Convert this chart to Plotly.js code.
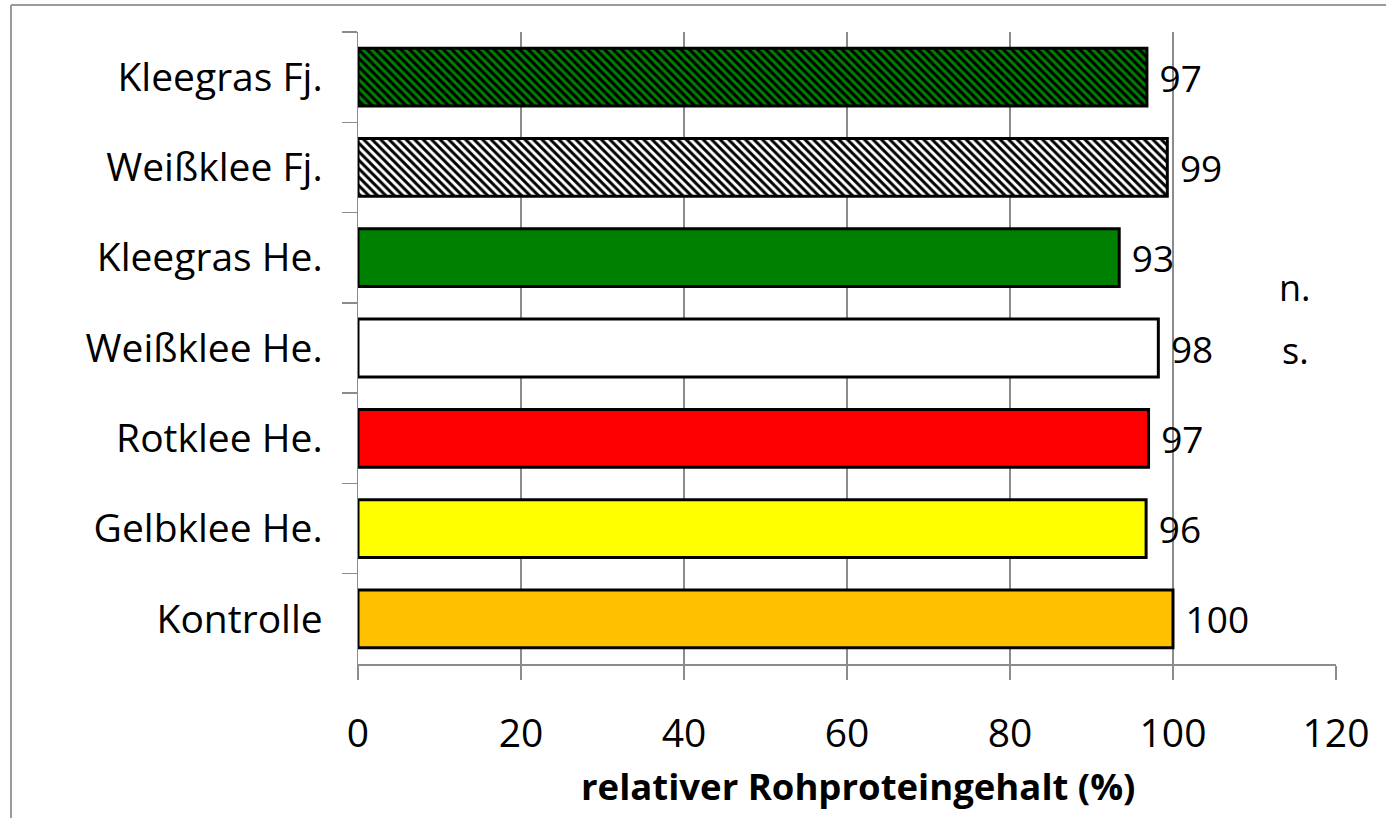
<!DOCTYPE html>
<html>
<head>
<meta charset="utf-8">
<script src="https://cdn.plot.ly/plotly-3.0.1.min.js"></script>
<style>
html,body{margin:0;padding:0;background:#fff;}
#chart{width:1386px;height:818px;}
</style>
</head>
<body>
<div id="chart"></div>
<script>
// Data (top to bottom)
const categories = ['Kleegras Fj.', 'Weißklee Fj.', 'Kleegras He.', 'Weißklee He.', 'Rotklee He.', 'Gelbklee He.', 'Kontrolle'];
const values = [96.8, 99.3, 93.4, 98.2, 97.0, 96.7, 100];
const valueLabels = ['97', '99', '93', '98', '97', '96', '100'];
const barColors = ['#008000', '#ffffff', '#008000', '#ffffff', '#ff0000', '#ffff00', '#ffc000'];
const barPatterns = ['\\', '\\', '', '', '', '', ''];
const xTicks = [0, 20, 40, 60, 80, 100, 120];
const xTitle = 'relativer Rohproteingehalt (%)';
const nsLines = ['n.', 's.'];

const FONT = 'Open Sans, Calibri, sans-serif';
const GRAY = '#8c8c8c';

// plot area geometry (px) used for frame shapes / annotations
const W = 1386, H = 818;
const L = 358, R = 50, T = 32, B = 154;
const pw = W - L - R, ph = H - T - B;
const px = v => (v - L) / pw;
const py = v => (H - B - v) / ph;

// one trace per bar so each bar can have its own solid colour / hatch
const traces = categories.map((cat, i) => ({
  type: 'bar',
  orientation: 'h',
  y: [cat],
  x: [values[i]],
  text: [valueLabels[i]],
  texttemplate: '\u00a0%{text}',
  textposition: 'outside',
  constraintext: 'none',
  cliponaxis: false,
  textfont: {family: FONT, size: 37, color: '#000'},
  marker: {
    color: barColors[i],
    line: {color: '#000', width: 3},
    pattern: barPatterns[i] ? {
      shape: barPatterns[i],
      fillmode: 'overlay',
      bgcolor: barColors[i],
      fgcolor: '#000000',
      fgopacity: 1,
      size: 6,
      solidity: 0.5
    } : {shape: ''}
  },
  hoverinfo: 'skip',
  showlegend: false
}));

const layout = {
  width: W, height: H,
  margin: {l: L, r: R, t: T, b: B, pad: 0},
  paper_bgcolor: '#fff', plot_bgcolor: '#fff',
  showlegend: false,
  barmode: 'overlay',
  bargap: 0.36,
  font: {family: FONT, color: '#000'},
  xaxis: {
    range: [0, 120],
    tickvals: xTicks,
    ticktext: xTicks.map(String),
    tickfont: {family: FONT, size: 39, color: '#000'},
    showgrid: true, gridcolor: GRAY, gridwidth: 1.5,
    showline: true, linecolor: GRAY, linewidth: 1.5,
    ticks: 'outside', ticklen: 14, tickcolor: GRAY, tickwidth: 1.5,
    ticklabelstandoff: 21,
    zeroline: false
  },
  yaxis: {
    type: 'category',
    categoryorder: 'array',
    categoryarray: categories,
    autorange: 'reversed',
    tickson: 'boundaries',
    ticks: 'outside', ticklen: 15, tickcolor: GRAY, tickwidth: 1.5,
    showline: true, linecolor: GRAY, linewidth: 1.5,
    showgrid: false, zeroline: false,
    tickfont: {family: FONT, size: 39, color: '#000'},
    ticklabelstandoff: 26
  },
  annotations: nsLines.map((t, i) => ({
    xref: 'paper', yref: 'paper',
    x: px(1295), y: py(287 + i * 63),
    xanchor: 'center', yanchor: 'middle',
    text: t, showarrow: false,
    font: {family: FONT, size: 36, color: '#000'}
  })).concat([{
    xref: 'paper', yref: 'paper',
    x: px(858), y: py(786),
    xanchor: 'center', yanchor: 'middle',
    text: '<b>' + xTitle + '</b>', showarrow: false,
    font: {family: FONT, size: 36.5, color: '#000'}
  }]),
  shapes: [
    {type: 'line', xref: 'paper', yref: 'paper', x0: px(11), x1: px(W + 5), y0: py(5), y1: py(5), line: {color: '#9a9a9a', width: 2}},
    {type: 'line', xref: 'paper', yref: 'paper', x0: px(11), x1: px(11), y0: py(5), y1: py(H + 5), line: {color: '#9a9a9a', width: 2}}
  ]
};

Plotly.newPlot('chart', traces, layout, {displayModeBar: false, staticPlot: true});
</script>
</body>
</html>
